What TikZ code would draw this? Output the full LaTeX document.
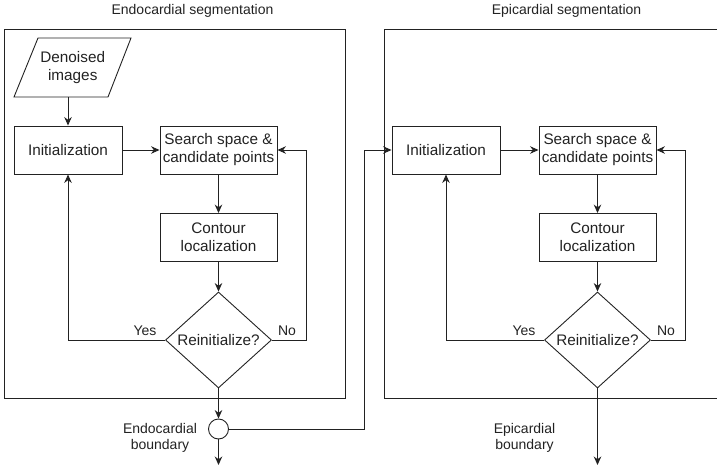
\documentclass[tikz,border=0pt]{standalone}
\usepackage{fontspec}
\setmainfont{Liberation Sans}
\usetikzlibrary{shapes.geometric,arrows.meta}
\definecolor{ink}{HTML}{222222}
\begin{document}
\begin{tikzpicture}[x=1pt,y=-1pt,
  every node/.style={text=ink},
  proc/.style={draw=ink,line width=0.9pt,rectangle,minimum width=108pt,minimum height=48pt,inner sep=0pt,align=center,font=\fontsize{15.3}{18}\selectfont},
  wide/.style={proc,minimum width=117pt},
  decide/.style={draw=ink,line width=0.9pt,diamond,minimum width=106pt,minimum height=96pt,inner sep=0pt,font=\fontsize{15.3}{18}\selectfont},
  lab/.style={font=\fontsize{14}{15.5}\selectfont,align=center,inner sep=0pt},
  frame/.style={draw=ink,line width=0.9pt},
  conn/.style={draw=ink,line width=0.9pt},
  arr/.style={conn,-{Stealth[length=8.5pt,width=7.5pt]}}
]
\useasboundingbox (0,0) rectangle (717,470);
% frames
\draw[frame] (4,29) rectangle (345,398);
\draw[frame] (718,29) -- (384,29) -- (384,398) -- (718,398);
\node[lab] (t1) at (192.5,11) {Endocardial segmentation};
\node[lab] (t2) at (566.5,11) {Epicardial segmentation};
% left flow
\node[minimum width=94pt,minimum height=59pt,inner sep=0pt,align=center,font=\fontsize{15.3}{18}\selectfont] (den) at (72.75,67.5) {Denoised\\images};
\draw[conn] (38,38) -- (131,38) -- (108,97) -- (14,97) -- cycle;
\node[proc] (i1) at (68,150) {Initialization};
\node[wide] (s1) at (218.5,150) {Search space \&\\candidate points};
\node[wide] (c1) at (218.5,237.5) {Contour\\localization};
\node[decide] (d1) at (218.5,340) {Reinitialize?};
\node[draw=ink,line width=0.9pt,circle,minimum size=20pt,inner sep=0pt] (o1) at (218.5,429) {};
\coordinate (e1) at (218.5,465);
\coordinate (n1) at (306,150);
\coordinate (j1) at (364,150);
\draw[arr] (i1.north |- den.south) -- (i1.north);
\draw[arr] (i1) -- (s1);
\draw[arr] (s1) -- (c1);
\draw[arr] (c1) -- (d1);
\draw[arr] (d1.west) -| (i1.south);
\draw[arr] (d1.east) -| (n1) -- (s1.east);
\draw[arr] (d1.south) -- (o1.north);
\draw[arr] (o1.south) -- (e1);
\node[lab] (y1) at (145,331) {Yes};
\node[lab] (no1) at (287,331) {No};
\node[lab] (b1) at (160,438) {Endocardial\\boundary};
% right flow
\node[proc] (i2) at (446,150) {Initialization};
\node[wide] (s2) at (597.5,150) {Search space \&\\candidate points};
\node[wide] (c2) at (597.5,237.5) {Contour\\localization};
\node[decide] (d2) at (597.5,340) {Reinitialize?};
\coordinate (e2) at (597.5,465);
\coordinate (n2) at (685,150);
\draw[arr] (o1.east) -| (j1) -- (i2.west);
\draw[arr] (i2) -- (s2);
\draw[arr] (s2) -- (c2);
\draw[arr] (c2) -- (d2);
\draw[arr] (d2.west) -| (i2.south);
\draw[arr] (d2.east) -| (n2) -- (s2.east);
\draw[arr] (d2.south) -- (e2);
\node[lab] (y2) at (524,331) {Yes};
\node[lab] (no2) at (666,331) {No};
\node[lab] (b2) at (524.5,438) {Epicardial\\boundary};
\end{tikzpicture}
\end{document}
